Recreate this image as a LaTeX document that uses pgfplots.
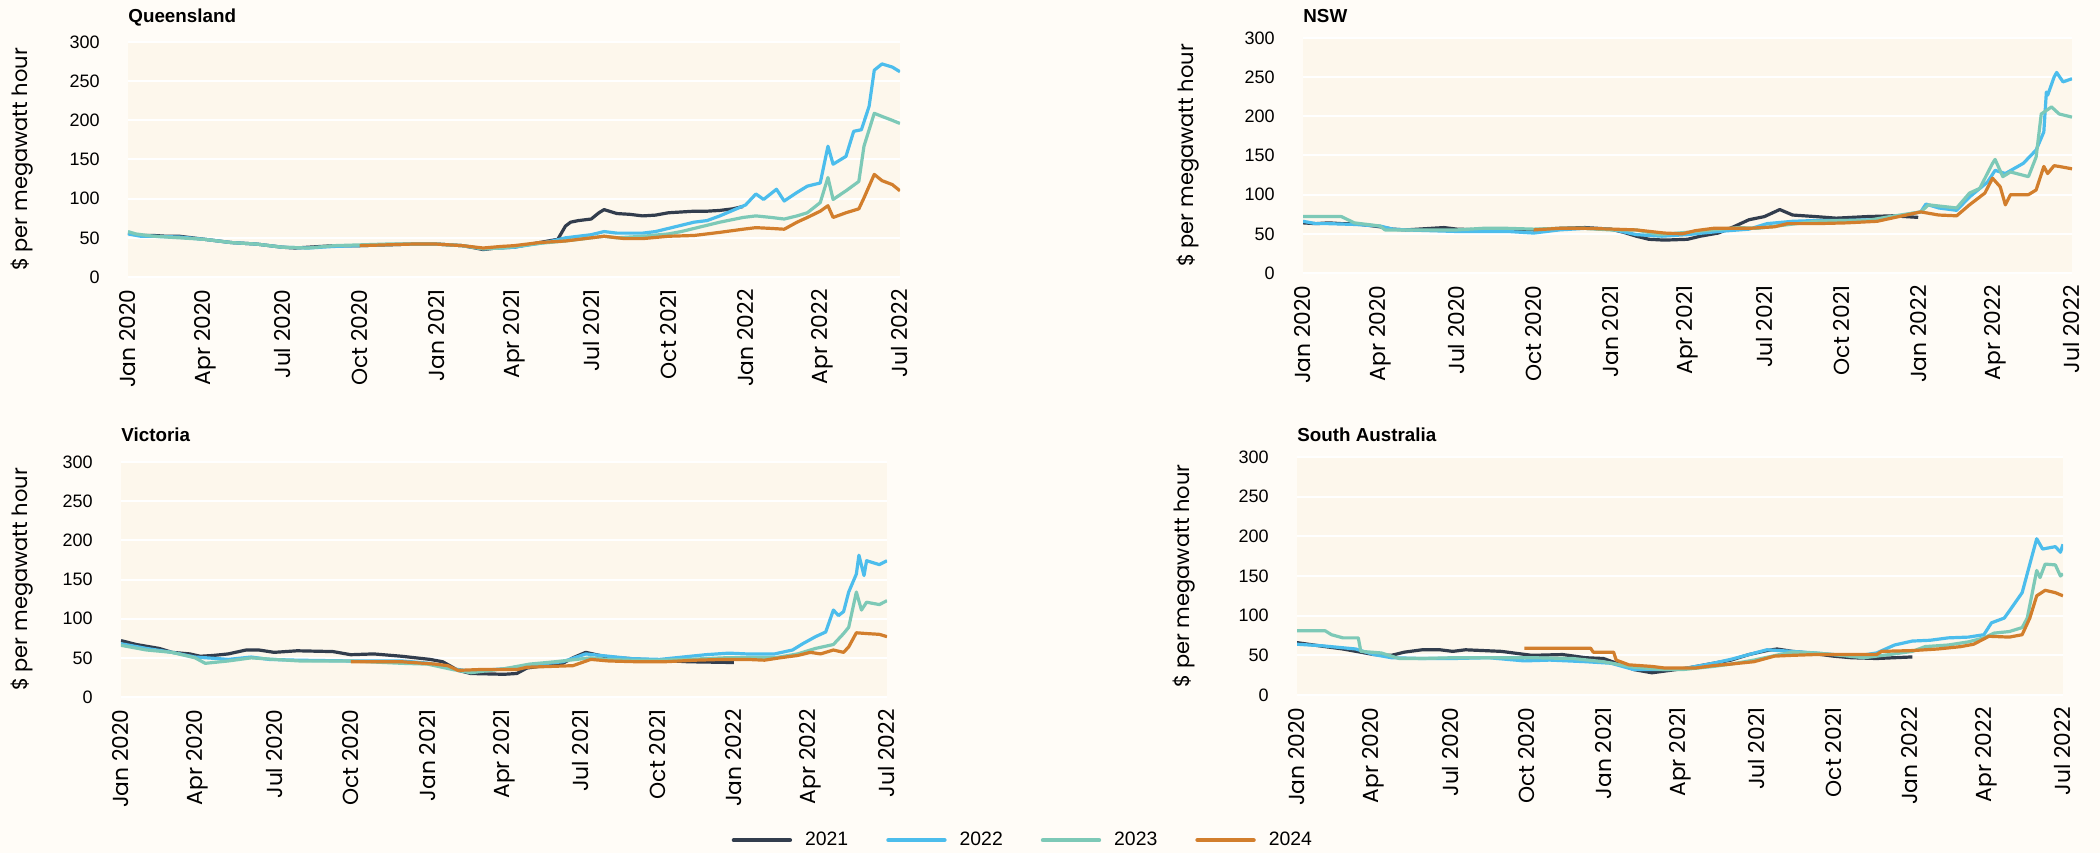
\documentclass[border=0pt]{standalone}
\usepackage{fontspec}
\setmainfont{Liberation Sans}
\newfontfamily\pop{Poppins}
\usepackage{pgfplots}
\pgfplotsset{compat=1.18}

\definecolor{pagebg}{HTML}{FFFCF7}
\definecolor{plotbg}{HTML}{FDF7EC}
\definecolor{c21}{HTML}{323D4D}
\definecolor{c22}{HTML}{4CBDEC}
\definecolor{c23}{HTML}{7DC9B7}
\definecolor{c24}{HTML}{D27E2C}

\pgfplotsset{
  panel/.style={
    scale only axis,
    xmin=0, xmax=30, ymin=0, ymax=300,
    xtick={0,3,...,30},
    xticklabels={Jan 2020,Apr 2020,Jul 2020,Oct 2020,Jan 2021,Apr 2021,Jul 2021,Oct 2021,Jan 2022,Apr 2022,Jul 2022},
    ytick={0,50,...,300},
    ymajorgrids, grid style={white, line width=1pt},
    axis line style={draw=none}, major tick length=0pt,
    axis background/.style={fill=plotbg},
    x tick label style={font=\pop\fontsize{10.9}{12}\selectfont, rotate=90, anchor=east, inner xsep=6pt, inner ysep=0pt},
    y tick label style={font=\fontsize{9}{10}\selectfont, anchor=east, inner sep=0pt, xshift=-14pt},
    /pgf/number format/assume math mode=true,
    ylabel={\$ per megawatt hour},
    every axis title/.style={at={(rel axis cs:0,1)}, anchor=base west, inner sep=0pt,
      font=\bfseries\fontsize{9.4}{11}\selectfont},
    every axis plot/.append style={line width=1.6pt, no markers, line join=round},
  },
  ylab/.style={every axis y label/.style={at={([xshift=#1]rel axis cs:0,0.5)}, rotate=90, anchor=center,
      font=\pop\fontsize{10.5}{12}\selectfont}},
}

\begin{document}
\begin{tikzpicture}
\path[use as bounding box, fill=pagebg] (0,0) rectangle (1050pt,426.5pt);

% Queensland
\begin{axis}[panel, ylab=-53pt, at={(64pt,288pt)}, anchor=south west, width=386pt, height=117.5pt,
  title={Queensland}, title style={yshift=9.5pt}]
\addplot[c21] coordinates {(0,56)(0.5,53)(1,53)(1.5,52)(2,52)(2.5,50)(3,48)(3.5,46)(4,44)(4.5,43)(5,42)(5.5,40)(6,38)(6.5,37)(7,38)(7.5,39)(8,40)(8.5,40)(9,40)(10,41)(11,42)(12,42)(12.5,41)(13,40)(13.5,37)(13.8,35)(14.3,37)(15,38)(15.5,41)(16,44)(16.5,47)(16.7,48)(17.0,65)(17.2,70)(17.5,72)(18,74)(18.3,82)(18.5,86)(19,81)(19.5,80)(20,78)(20.5,79)(21,82)(21.5,83)(22,84)(22.5,84)(23,85)(23.5,87)(23.9,90)};
\addplot[c22] coordinates {(0,55)(0.5,52)(1,52)(2,51)(3,48)(4,44)(5,42)(6,38)(7,37)(8,39)(9,40)(10,41)(11,42)(12,42)(13,40)(13.8,36)(14.5,37)(15,38)(16,43)(16.5,46)(17,50)(17.5,52)(18,54)(18.5,58)(19,56)(20,56)(20.5,58)(21,62)(21.5,66)(22,70)(22.5,72)(23,78)(23.5,85)(24,92)(24.4,106)(24.7,99)(25.2,112)(25.5,97)(26,108)(26.4,116)(26.9,120)(27.2,167)(27.4,144)(27.9,154)(28.2,186)(28.5,188)(28.8,218)(29.0,264)(29.3,272)(29.7,268)(30,262)};
\addplot[c23] coordinates {(0,58)(0.3,55)(1,52)(2,50)(3,48)(4,44)(5,42)(6,38)(7,37)(8,40)(9,41)(10,42)(11,42)(12,42)(13,40)(13.8,36)(14.5,37)(15,39)(16,43)(17,46)(18,50)(18.5,52)(19,50)(20,52)(21,55)(21.5,58)(22,62)(22.5,66)(23,70)(23.9,76)(24.4,78)(25,76)(25.5,74)(26,78)(26.4,82)(26.9,95)(27.2,127)(27.4,99)(27.9,110)(28.4,122)(28.6,167)(29.0,209)(29.3,205)(29.7,200)(30,196)};
\addplot[c24] coordinates {(9,40)(10,41)(11,42)(12,42)(12.5,41)(13,40)(13.8,37)(14.5,39)(15,40)(16,44)(17,46)(18,50)(18.5,52)(19.3,49)(20,49)(21,52)(22,53)(23,57)(23.9,61)(24.4,63)(25,62)(25.5,61)(26,70)(26.4,76)(26.9,84)(27.2,91)(27.4,76)(27.9,82)(28.4,87)(28.6,101)(29.0,131)(29.3,123)(29.7,118)(30,110)};
\end{axis}

% NSW
\begin{axis}[panel, ylab=-57.5pt, at={(651.5pt,290pt)}, anchor=south west, width=384.5pt, height=117.5pt,
  title={NSW}, title style={yshift=7.5pt}]
\addplot[c21] coordinates {(0,64)(0.5,63)(1,64)(1.5,63)(2,63)(2.5,61)(3,59)(3.5,56)(4,55)(4.5,56)(5,57)(5.5,58)(6,56)(7,55)(8,56)(9,55)(10,57)(11,58)(12,56)(12.5,52)(13,47)(13.5,43)(14.1,42)(15,43)(15.5,47)(16.2,51)(16.8,59)(17.4,68)(18,72)(18.6,81)(19.1,74)(20,72)(20.8,70)(22,72)(23,73)(24,71)};
\addplot[c22] coordinates {(0,66)(0.5,63)(1,63)(2,62)(3,60)(3.5,56)(4,55)(5,54)(6,53)(7,53)(8,53)(9,51)(10,55)(11,57)(12,56)(13,49)(14,47)(15,49)(16.2,53)(17.4,56)(18.1,63)(19.1,66)(20,67)(21,67)(22.4,68)(23.1,72)(24.1,78)(24.3,88)(24.8,83)(25.5,80)(26,97)(26.7,116)(27.0,131)(27.4,127)(28.1,140)(28.6,157)(28.9,180)(29.0,231)(29.05,227)(29.3,250)(29.4,256)(29.65,244)(30,248)};
\addplot[c23] coordinates {(0,72)(1,72)(1.5,72)(2,64)(2.5,62)(3,60)(3.2,55)(4,55)(5,55)(6,55)(7,57)(8,57)(9,56)(10,57)(11,57)(12,55)(13,55)(13.9,49)(15,52)(16,55)(17,58)(17.7,57)(19,62)(20,66)(21,67)(22,67)(22.9,72)(24.1,78)(24.4,87)(25.5,83)(26,102)(26.4,108)(26.9,140)(27.0,145)(27.3,123)(27.6,129)(28.3,123)(28.6,148)(28.8,203)(29.2,212)(29.5,203)(30,199)};
\addplot[c24] coordinates {(9.0,55)(10,57)(11,57)(12.1,56)(13,55)(14.1,51)(14.8,50)(15.3,54)(16,57)(17.4,57)(18.4,59)(18.9,63)(20,63)(21.2,64)(22.4,66)(23.1,71)(24.1,78)(24.8,74)(25.5,73)(26,87)(26.6,102)(26.9,121)(27.2,110)(27.4,87)(27.6,100)(28.3,100)(28.6,106)(28.9,136)(29.05,127)(29.3,137)(29.5,136)(30,133)};
\end{axis}

% Victoria
\begin{axis}[panel, ylab=-49.5pt, at={(60.5pt,78pt)}, anchor=south west, width=383pt, height=117.5pt,
  title={Victoria}, title style={yshift=10.5pt},
  legend columns=4, legend cell align=left,
  legend style={draw=none, fill=none, at={(rel axis cs:1.176,-0.609)}, anchor=center,
    font=\fontsize{9.7}{11}\selectfont, nodes={inner sep=0pt},
    /tikz/every odd column/.append style={column sep=6.5pt},
    /tikz/every even column/.append style={column sep=19pt}},
  legend image code/.code={\draw[line width=2.2pt, line cap=round] (0pt,0pt) -- (28pt,0pt);}]
\addplot[c21] coordinates {(0,72)(0.6,67)(1.5,62)(2,57)(2.7,55)(3.1,52)(3.6,53)(4.2,55)(4.9,60)(5.4,60)(6,57)(6.9,59)(8.3,58)(9,54)(9.9,55)(11,52)(12.1,48)(12.6,45)(13.2,34)(13.7,30)(15,29)(15.5,30)(15.9,37)(16.6,40)(17.3,43)(17.7,50)(18.2,57)(18.9,52)(19.5,50)(20.4,48)(21.1,47)(22.2,45)(24,44)};
\addlegendentry{2021}
\addplot[c22] coordinates {(0,68)(1,62)(2,57)(2.9,51)(3.8,49)(4.2,48)(5.1,51)(5.8,48)(6.9,47)(9,46)(11,46)(12.1,43)(13,36)(13.7,33)(15,36)(16.4,42)(17.3,45)(18.2,55)(19.1,52)(20,49)(21.1,48)(22.9,54)(23.8,56)(24.5,55)(25.6,55)(26.3,60)(26.7,68)(27.2,77)(27.6,83)(27.9,111)(28.1,104)(28.3,109)(28.5,134)(28.8,157)(28.9,181)(29.1,155)(29.2,174)(29.7,169)(30,174)};
\addlegendentry{2022}
\addplot[c23] coordinates {(0,66)(1,60)(2,57)(2.9,50)(3.3,43)(4.2,46)(5.1,50)(6,48)(7,46)(9,46)(11,43)(12,42)(13,35)(13.7,31)(15,36)(16,42)(17,45)(18.4,50)(19,48)(20,47)(21,47)(22.2,48)(23.6,50)(25.6,50)(26.5,55)(27.2,62)(27.9,67)(28.3,81)(28.5,89)(28.8,134)(29.0,111)(29.2,121)(29.7,118)(30,123)};
\addlegendentry{2023}
\addplot[c24] coordinates {(9,45)(10,45)(11,45)(12.3,42)(12.8,40)(13.2,34)(14,35)(15.5,35)(15.9,38)(16.8,39)(17.7,40)(18.4,48)(19.1,46)(20.2,45)(21.3,45)(22.5,47)(23.6,48)(24.5,48)(25.2,47)(25.8,50)(26.5,53)(27,57)(27.4,55)(27.9,60)(28.3,57)(28.5,64)(28.8,82)(29.2,81)(29.7,80)(30,77)};
\addlegendentry{2024}
\end{axis}

% South Australia
\begin{axis}[panel, ylab=-56.5pt, at={(648.5pt,79pt)}, anchor=south west, width=383pt, height=119pt,
  title={South Australia}, title style={yshift=8pt}]
\addplot[c21] coordinates {(0,66)(1.1,61)(1.8,58)(3.0,51)(3.7,50)(4.2,54)(4.9,57)(5.6,57)(6.1,55)(6.6,57)(8,55)(9.2,50)(10.4,51)(11.3,47)(12.0,46)(12.7,38)(13.2,32)(13.9,28)(14.6,31)(15.3,34)(16.3,40)(17.0,44)(17.7,51)(18.4,56)(18.8,58)(19.4,55)(20.3,52)(21.0,49)(21.7,47)(22.7,46)(24.1,48)};
\addplot[c22] coordinates {(0,64)(1,62)(2.3,58)(3.0,51)(3.7,47)(4.9,46)(6.1,46)(7.5,47)(8.9,43)(9.9,44)(11.3,42)(12.3,40)(13.2,32)(14.4,32)(15.1,33)(16.3,40)(17,45)(17.7,51)(18.4,57)(19.4,55)(20.3,53)(21.0,51)(21.9,49)(22.7,53)(23.4,63)(24.1,68)(24.8,69)(25.5,72)(26.3,73)(26.9,76)(27.2,91)(27.7,97)(27.9,106)(28.4,129)(28.6,153)(28.7,165)(28.97,197)(29.2,184)(29.7,187)(29.9,180)(30,190)};
\addplot[c23] coordinates {(0,81)(1.1,81)(1.35,76)(1.8,72)(2.4,72)(2.5,55)(3.3,53)(4.0,46)(4.9,46)(6.1,47)(7.5,47)(9.2,47)(10.8,46)(12.0,42)(13.2,35)(14.4,32)(15.1,32)(16.3,36)(17.0,39)(17.9,44)(18.9,51)(19.4,54)(20.3,53)(21.0,51)(22.2,47)(23.2,51)(24.1,55)(24.6,61)(25.5,63)(26.3,67)(26.9,72)(27.3,78)(27.9,80)(28.4,85)(28.6,97)(28.97,157)(29.1,148)(29.3,165)(29.7,164)(29.9,150)(30,153)};
\addplot[c24] coordinates {(8.9,59)(11.5,59)(11.6,54)(12.4,54)(12.5,44)(13.0,38)(13.9,36)(14.4,34)(15.6,34)(16.3,37)(17.0,39)(17.9,42)(18.7,49)(19.4,50)(20.3,51)(21.5,51)(22.7,51)(22.9,55)(24.1,56)(25.1,58)(26.0,61)(26.5,64)(27.1,74)(27.9,73)(28.4,76)(28.7,97)(28.97,125)(29.3,132)(29.7,129)(30,125)};
\end{axis}
\end{tikzpicture}
\end{document}
